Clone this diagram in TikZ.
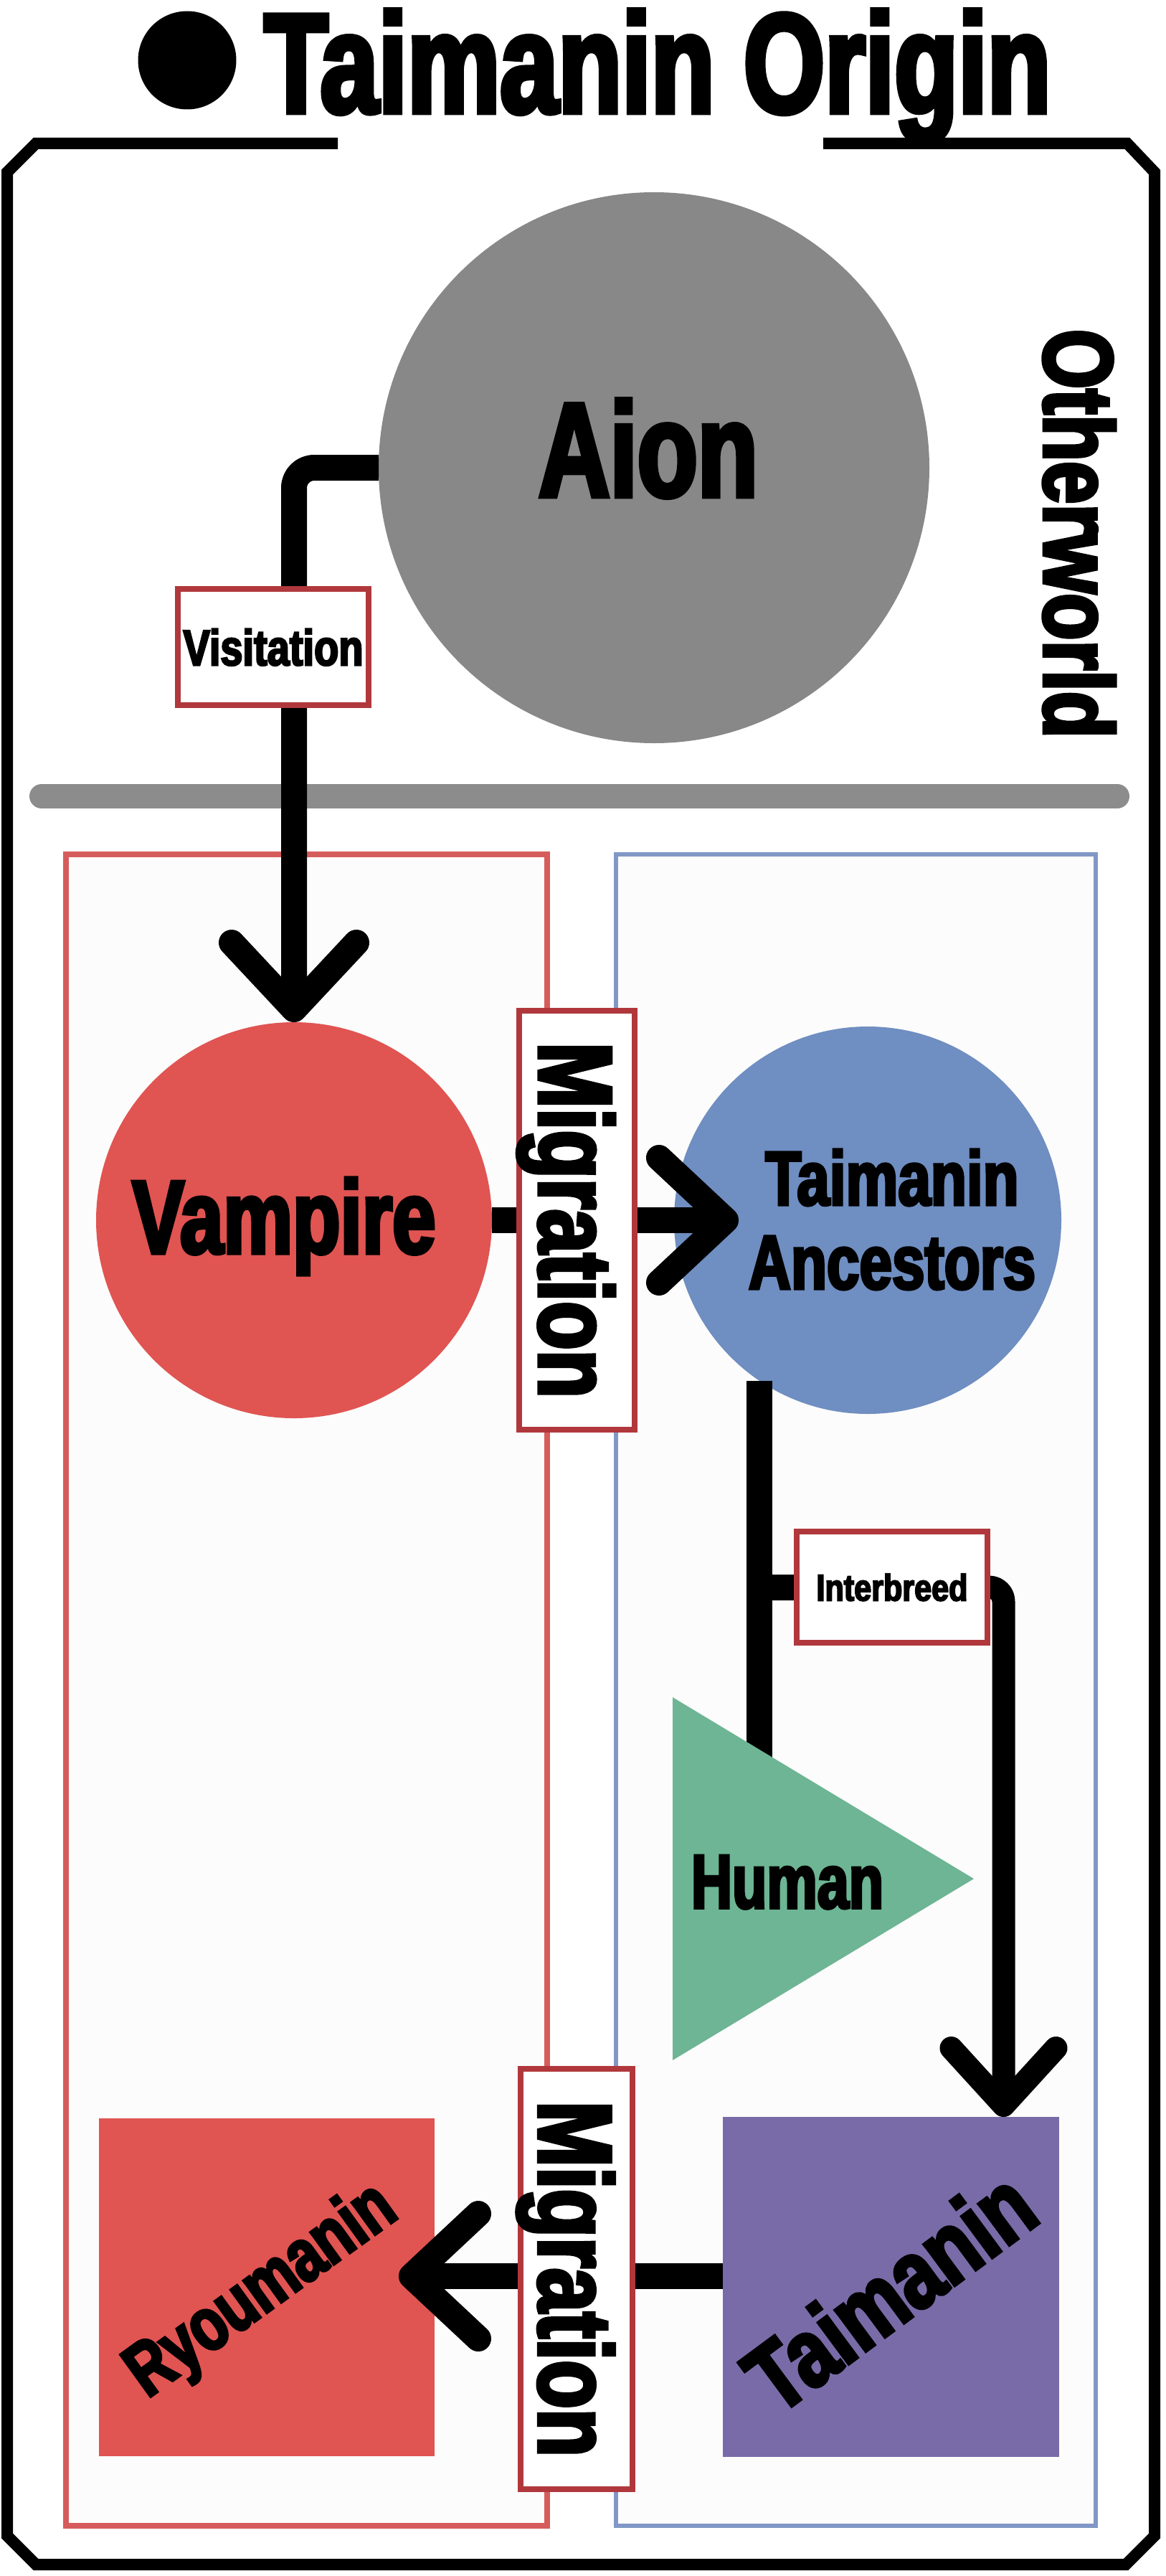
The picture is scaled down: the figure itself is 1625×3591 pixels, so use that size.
\documentclass[tikz,border=0pt]{standalone}
\usepackage{fontspec}
\newfontfamily\impfont{Liberation Sans}[UprightFont={* Bold}, FakeBold=3.5]
\usetikzlibrary{arrows.meta}
\definecolor{aiongray}{HTML}{888888}
\definecolor{sepgray}{HTML}{8C8C8C}
\definecolor{vampred}{HTML}{E05452}
\definecolor{ancblue}{HTML}{6F8EC1}
\definecolor{humgreen}{HTML}{6DB594}
\definecolor{taipurple}{HTML}{796BA8}
\definecolor{boxred}{HTML}{B0383C}
\definecolor{panelred}{HTML}{D65C5C}
\definecolor{panelblue}{HTML}{8197C6}
\definecolor{panelbg}{HTML}{FCFCFC}
\pgfdeclarelayer{back}
\pgfdeclarelayer{mid}
\pgfsetlayers{back,mid,main}
\pgfdeclarearrow{
  name = Chev,
  parameters = {\the\pgfarrowlength,\the\pgfarrowwidth,\the\pgflinewidth},
  setup code = {
    \pgfarrowssettipend{.5\pgflinewidth}
    \pgfarrowssetlineend{0pt}
    \pgfarrowssetbackend{-\pgfarrowlength}
    \pgfarrowssavethe\pgfarrowlength
    \pgfarrowssavethe\pgfarrowwidth
  },
  drawing code = {
    \pgfsetdash{}{0pt}
    \pgfsetroundcap
    \pgfsetroundjoin
    \pgfpathmoveto{\pgfqpoint{-\pgfarrowlength}{.5\pgfarrowwidth}}
    \pgfpathlineto{\pgfpointorigin}
    \pgfpathlineto{\pgfqpoint{-\pgfarrowlength}{-.5\pgfarrowwidth}}
    \pgfusepathqstroke
  },
  defaults = {length = 93pt, width = 174pt}
}
\newcommand\imptext[3]{{\impfont\addfontfeature{FakeStretch=#2}\fontsize{#1}{#1}\selectfont #3}}
\tikzset{
  conn/.style={line width=36pt, draw=black, line cap=butt, line join=round},
  shapenode/.style={inner sep=0pt, outer sep=0pt},
  labelbox/.style={rectangle, draw=boxred, line width=8pt, fill=white, inner sep=0pt, text depth=0pt},
  txt/.style={inner sep=0pt, outer sep=0pt, anchor=base},
  frame/.style={line width=16pt, draw=black, line join=miter},
}
\begin{document}
\begin{tikzpicture}[x=1pt, y=-1pt]
\useasboundingbox (0,0) rectangle (1625,3591);
\begin{pgfonlayer}{back}
  \fill[white] (0,0) rectangle (1625,3591);
  % outer frame
  \draw[frame] (471,200) -- (50,200) -- (10,240) -- (10,3535) -- (50,3575) -- (1570,3575) -- (1610,3535) -- (1610,240) -- (1572,200) -- (1148,200);
  % panels
  \draw[panelred, line width=8pt, fill=panelbg] (92,1191) rectangle (763,3521);
  \draw[panelblue, line width=6pt, fill=panelbg] (859,1191) rectangle (1528,3521);
  % separator
  \draw[sepgray, line width=34pt, line cap=round] (58,1110) -- (1558,1110);
  % shapes
  \node[shapenode, circle, fill=aiongray, minimum size=768pt] (aion) at (912,652) {};
  \node[shapenode, circle, fill=vampred, minimum size=552pt] (vamp) at (410,1701) {};
  \node[shapenode, circle, fill=ancblue, minimum size=540pt] (anc) at (1210,1701) {};
  \node[shapenode, rectangle, fill=taipurple, minimum width=469pt, minimum height=474pt] (tai) at (1242.5,3188) {};
  \node[shapenode, rectangle, fill=vampred, minimum width=468pt, minimum height=471pt] (ryo) at (372,3188) {};
\end{pgfonlayer}

% title
\node[shapenode, circle, fill=black, minimum size=137pt] (bullet) at (261,84) {};
\node[txt] (title) at (917,157) {\imptext{198}{0.735}{Taimanin Origin}};

% texts
\node[txt] (aiontxt) at (904,692) {\imptext{187}{0.736}{Aion}};
\node[txt, rotate=-90] (other) at (1456,744) {\imptext{137}{0.78}{Otherworld}};
\node[txt] (vamptxt) at (396,1747) {\imptext{145}{0.75}{Vampire}};
\node[inner sep=0pt, align=center, font={\impfont\addfontfeature{FakeStretch=0.765}\fontsize{107}{117}\selectfont}] (anctxt) at (1244,1700)
  {Taimanin\\Ancestors};
\fill[humgreen] (938,2366) -- (1358,2619) -- (938,2872) -- cycle;
\node[txt] (human) at (1098,2660) {\imptext{107}{0.74}{Human}};
\node[txt, rotate=36.5] (taitxt) at (1269,3232) {\imptext{135}{0.79}{Taimanin}};
\node[txt, rotate=35.8] (ryotxt) at (382,3217) {\imptext{105}{0.76}{Ryoumanin}};

% label boxes
\node[labelbox, minimum width=266pt, minimum height=162pt] (vis) at (381,902) {\imptext{70}{0.80}{Visitation}};
\node[labelbox, rotate=-90, minimum width=584pt, minimum height=161pt] (mig1) at (804.5,1701) {\imptext{145}{0.76}{Migration}};
\node[labelbox, rotate=-90, minimum width=586pt, minimum height=156pt] (mig2) at (804,3177) {\imptext{145}{0.76}{Migration}};
\node[labelbox, minimum width=266pt, minimum height=155pt] (ib) at (1244,2212.5) {\imptext{52}{0.83}{Interbreed}};

% connectors
\begin{pgfonlayer}{mid}
  \draw[conn, rounded corners=28pt, -{Chev}] (aion.west) -| (vamp.north);
  \draw[conn, -{Chev}, shorten >=-90pt] (vamp.east) -- (anc.west);
  \draw[conn] (anc.-124.3) -- (anc.-124.3 |- human.center);
  \draw[conn] (anc.-124.3 |- ib.west) -- (ib.west);
  \draw[conn, line width=32pt, rounded corners=20pt, -{Chev[length=80pt, width=146pt]}] (ib.east) -| ([xshift=157pt]tai.north);
  \draw[conn, -{Chev}, shorten >=-50pt] ([yshift=15pt]tai.west) -- ([yshift=15pt]ryo.east);
\end{pgfonlayer}
\end{tikzpicture}
\end{document}
